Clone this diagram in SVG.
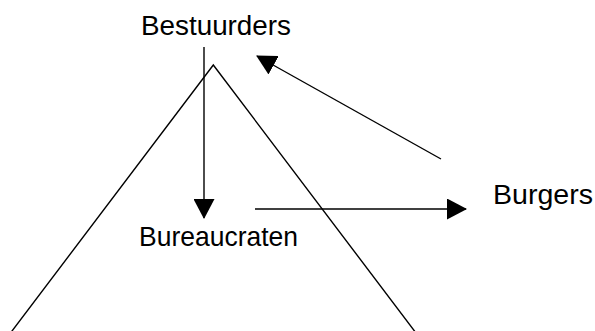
<svg xmlns="http://www.w3.org/2000/svg" width="595" height="331" viewBox="0 0 595 331">
  <defs>
    <marker id="head" markerUnits="userSpaceOnUse" markerWidth="20" markerHeight="21" viewBox="0 0 20 21" refX="19" refY="10.5" orient="auto">
      <path d="M0,0 L20,10.5 L0,21 Z" fill="#000"/>
    </marker>
    <style>
      .label { font-family: "Liberation Sans", Arial, sans-serif; font-size: 27.5px; fill: #000; }
      .line { stroke: #000; stroke-width: 1.4; fill: none; }
      .arrow { stroke: #000; stroke-width: 1.4; fill: none; marker-end: url(#head); }
    </style>
  </defs>
  <rect width="595" height="331" fill="#fff"/>

  <!-- pyramid outline -->
  <g id="pyramid">
    <polyline class="line" points="10.5,333 213.3,65 416,333"/>
  </g>

  <g id="bestuurders">
    <text class="label" x="141" y="35" textLength="150" lengthAdjust="spacingAndGlyphs">Bestuurders</text>
  </g>
  <g id="bureaucraten">
    <text class="label" x="139" y="246" textLength="159" lengthAdjust="spacingAndGlyphs">Bureaucraten</text>
  </g>
  <g id="burgers">
    <text class="label" x="493" y="204" textLength="100" lengthAdjust="spacingAndGlyphs">Burgers</text>
  </g>

  <g id="connectors">
    <line class="arrow" x1="204" y1="47" x2="204" y2="218"/>
    <line class="arrow" x1="255" y1="209" x2="466" y2="209"/>
    <line class="arrow" x1="441" y1="159" x2="257" y2="56"/>
  </g>
</svg>
